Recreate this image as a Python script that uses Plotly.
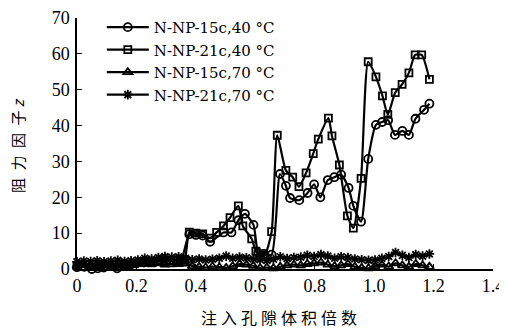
import plotly.graph_objects as go

# N-NP-15c, 40 °C (circles)
c_x = [0.0, 0.025, 0.05, 0.07, 0.09, 0.115, 0.135, 0.16, 0.18, 0.2, 0.225, 0.25, 0.275, 0.3, 0.325,
       0.35, 0.378, 0.40, 0.423, 0.448, 0.493, 0.52, 0.543, 0.565, 0.594, 0.61, 0.629, 0.655,
       0.683, 0.703, 0.717, 0.748, 0.776, 0.798, 0.819, 0.844, 0.866, 0.889, 0.914, 0.93, 0.956,
       0.98, 1.006, 1.027, 1.047, 1.07, 1.095, 1.117, 1.139, 1.168, 1.186]
c_y = [0.5, 0.6, 0.0, 0.2, 0.4, 0.8, 0.2, 0.9, 1.2, 1.5, 1.8, 2.0, 2.2, 2.0, 2.3,
       2.5, 9.7, 9.5, 9.3, 7.6, 10.2, 10.2, 13.6, 15.4, 12.3, 4.5, 4.2, 4.0,
       26.5, 23.2, 19.8, 19.2, 21.2, 23.6, 20.0, 24.8, 25.6, 26.3, 22.6, 17.6, 13.2,
       30.7, 40.2, 41.0, 41.5, 37.4, 38.5, 37.4, 41.9, 44.4, 46.1]

# N-NP-21c, 40 °C (squares)
s_x = [0.0, 0.04, 0.08, 0.12, 0.16, 0.19, 0.22, 0.25, 0.28, 0.31, 0.34, 0.362,
       0.378, 0.40, 0.423, 0.448, 0.47, 0.493, 0.515, 0.543, 0.558, 0.588, 0.602, 0.618, 0.632,
       0.655, 0.674, 0.703, 0.726, 0.747, 0.771, 0.795, 0.812, 0.846, 0.858, 0.883, 0.91, 0.93,
       0.956, 0.98, 1.006, 1.028, 1.046, 1.071, 1.094, 1.117, 1.138, 1.16, 1.186]
s_y = [1.0, 1.2, 1.0, 1.3, 1.2, 1.5, 2.0, 2.2, 2.5, 2.4, 2.6, 2.7,
       10.3, 10.0, 9.8, 8.6, 10.2, 12.0, 14.3, 17.6, 12.0, 8.4, 5.0, 3.6, 3.8,
       10.4, 37.3, 27.5, 25.6, 23.0, 26.8, 32.2, 36.2, 42.1, 37.1, 29.0, 14.8, 11.4,
       25.3, 57.8, 53.6, 48.3, 43.1, 49.2, 51.5, 54.7, 59.7, 59.7, 52.9]

# common x for the 70 °C series
h_x = [0.0, 0.023, 0.046, 0.068, 0.091, 0.114, 0.137, 0.160, 0.182, 0.205, 0.228, 0.251, 0.274,
       0.296, 0.319, 0.342, 0.365, 0.388, 0.411, 0.433, 0.456, 0.479, 0.502, 0.524, 0.547, 0.570,
       0.593, 0.616, 0.639, 0.661, 0.684, 0.707, 0.730, 0.753, 0.775, 0.798, 0.821, 0.844, 0.867,
       0.889, 0.912, 0.935, 0.958, 0.981, 1.003, 1.026, 1.049, 1.072, 1.095, 1.117, 1.140, 1.163, 1.186]
# N-NP-15c, 70 °C (triangles)
t_y = [0.8, 1.0, 0.9, 1.1, 1.0, 0.9, 1.2, 1.0, 1.2, 1.4, 1.5, 1.3, 1.6,
       1.2, 1.3, 1.4, 1.5, 0.8, 0.6, 0.4, 0.7, 0.5, 0.3, 0.8, 1.4, 1.2,
       0.9, 0.3, 0.4, 0.2, 0.6, 1.0, 1.2, 1.0, 1.4, 1.6, 1.8, 1.2, 0.8,
       1.0, 1.4, 0.6, 0.3, 0.2, 0.8, 1.2, 0.7, 1.6, 1.0, 0.6, 1.4, 1.0, 0.6]
# N-NP-21c, 70 °C (asterisks)
a_y = [2.0, 2.2, 2.1, 2.3, 2.0, 2.2, 2.4, 2.1, 2.3, 2.5, 3.0, 2.8, 3.2,
       3.5, 3.3, 3.4, 3.0, 2.6, 2.8, 2.5, 2.7, 3.0, 3.6, 3.0, 3.3, 3.1,
       2.8, 2.6, 2.4, 2.7, 3.4, 2.9, 3.2, 3.3, 3.8, 3.5, 4.0, 3.6, 3.0,
       3.4, 3.2, 2.8, 2.6, 2.4, 2.5, 3.0, 3.5, 4.6, 3.8, 3.2, 4.0, 3.6, 4.2]

names = ["N-NP-15c,40 °C", "N-NP-21c,40 °C", "N-NP-15c,70 °C", "N-NP-21c,70 °C"]
x_ticks = [0, 0.2, 0.4, 0.6, 0.8, 1.0, 1.2, 1.4]
x_tick_text = ["0", "0.2", "0.4", "0.6", "0.8", "1.0", "1.2", "1.4"]
y_ticks = [0, 10, 20, 30, 40, 50, 60, 70]
x_title = "注\u2005入\u2005孔\u2005隙\u2005体\u2005积\u2005倍\u2005数"
y_title = "阻\u2002力\u2002因\u2002子 <i>z</i>"

serif = "Liberation Serif, Times New Roman, serif"
cjk = "Noto Sans CJK SC"

fig = go.Figure()
series = [
    (c_x, c_y, "circle-open", 8),
    (s_x, s_y, "square-open", 7),
    (h_x, t_y, "triangle-up-open", 8),
    (h_x, a_y, "asterisk-open", 8),
]
for (xs, ys, sym, sz), nm in zip(series, names):
    fig.add_trace(go.Scatter(
        x=xs, y=ys, name=nm, mode="lines+markers",
        line=dict(color="black", width=2.2, shape="spline", smoothing=0.6),
        marker=dict(symbol=sym, size=sz, color="black", line=dict(color="black", width=1.8)),
        cliponaxis=False,
    ))

# the page body has an 8px margin, so the figure is sized to fit the 507x330 window
fig.update_layout(
    width=499, height=322,
    margin=dict(l=69, r=14, t=10, b=61, autoexpand=False),
    paper_bgcolor="white", plot_bgcolor="white",
    font=dict(family=serif, size=18, color="black"),
    showlegend=True,
    legend=dict(xref="container", yref="container", x=0.188, y=0.991,
                xanchor="left", yanchor="top",
                bgcolor="rgba(0,0,0,0)", font=dict(family="DejaVu Serif", size=15),
                tracegroupgap=0, itemwidth=42),
    xaxis=dict(range=[0, 1.4], tickvals=x_ticks, ticktext=x_tick_text,
               ticks="inside", ticklen=5, tickwidth=1.2, tickcolor="black",
               showline=True, linecolor="black", linewidth=1.5, showgrid=False,
               zeroline=False, automargin=False,
               tickfont=dict(family=serif, size=18)),
    yaxis=dict(range=[0, 70], tickvals=y_ticks,
               ticks="inside", ticklen=5, tickwidth=1.2, tickcolor="black",
               showline=True, linecolor="black", linewidth=1.5, showgrid=False,
               zeroline=False, automargin=False, ticklabelstandoff=2,
               tickfont=dict(family=serif, size=18)),
    annotations=[
        dict(text=x_title, xref="paper", yref="paper", x=0.486, y=-0.19,
             xanchor="center", yanchor="middle", showarrow=False,
             font=dict(family=cjk, size=16)),
        dict(text=y_title, xref="paper", yref="paper", x=-0.144, y=0.49,
             xanchor="center", yanchor="middle", showarrow=False, textangle=-90,
             font=dict(family=cjk, size=15)),
    ],
)

fig.write_html("out.html")
